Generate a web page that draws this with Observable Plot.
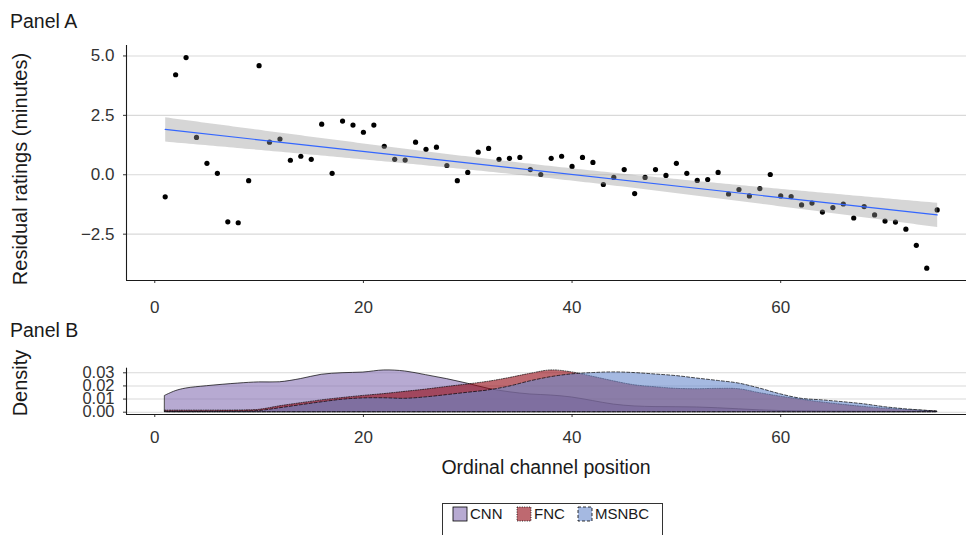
<!DOCTYPE html>
<html><head><meta charset="utf-8">
<script src="https://cdn.jsdelivr.net/npm/d3@7"></script>
<script src="https://cdn.jsdelivr.net/npm/@observablehq/plot@0.6"></script>
<style>
body{margin:0;background:#fff;font-family:"Liberation Sans",Arial,Helvetica,sans-serif;}
#wrap{position:relative;width:966px;height:535px;overflow:hidden;background:#fff;}
.t{position:absolute;color:#1a1a1a;white-space:nowrap;line-height:20px;font-size:19.5px;}
.rot{position:absolute;color:#1a1a1a;white-space:nowrap;line-height:20px;font-size:20px;transform:translate(-50%,-50%) rotate(-90deg);}
.plot{position:absolute;left:0;}
.lg{position:absolute;font-size:15px;line-height:16px;color:#1a1a1a;white-space:nowrap;}
</style></head>
<body><div id="wrap"></div>
<script>
// ---- Panel A data: ordinal channel position vs residual ratings ----
const positions = [1,2,3,4,5,6,7,8,9,10,11,12,13,14,15,16,17,18,19,20,21,22,23,24,25,26,27,28,29,30,31,32,33,34,35,36,37,38,39,40,41,42,43,44,45,46,47,48,49,50,51,52,53,54,55,56,57,58,59,60,61,62,63,64,65,66,67,68,69,70,71,72,73,74,75];
const residuals = [-0.93,4.21,4.93,1.57,0.48,0.06,-1.98,-2.02,-0.25,4.59,1.37,1.50,0.61,0.78,0.65,2.13,0.06,2.26,2.09,1.79,2.09,1.20,0.65,0.62,1.37,1.07,1.16,0.39,-0.25,0.10,0.95,1.11,0.65,0.69,0.73,0.22,0.01,0.69,0.78,0.35,0.73,0.52,-0.41,-0.11,0.22,-0.79,-0.11,0.22,-0.03,0.48,0.06,-0.24,-0.20,0.10,-0.81,-0.62,-0.89,-0.58,0.01,-0.89,-0.92,-1.27,-1.19,-1.57,-1.38,-1.23,-1.82,-1.34,-1.69,-1.95,-1.99,-2.29,-2.97,-3.93,-1.48];

// ---- Panel B data: density of channel positions per network ----
const networks = ["CNN","FNC","MSNBC"];
const densityX = [1,2,3,5,8,10,12,14,16,18,20,22,24,26,28,30,32,34,36,38,40,42,44,46,48,50,52,54,56,58,60,62,64,66,68,70,72,75];
const cnnDensity = [0.0125,0.016,0.018,0.0198,0.0218,0.0227,0.0228,0.0252,0.0285,0.0297,0.0302,0.0318,0.031,0.0282,0.0252,0.0217,0.0178,0.0152,0.0135,0.0127,0.0112,0.0085,0.0058,0.0044,0.0039,0.0038,0.0036,0.003,0.0022,0.0014,0.0009,0.0007,0.0006,0.0005,0.0004,0.0004,0.0003,0.0003];
const fncDensity = [0.0012,0.0012,0.0012,0.0012,0.0013,0.0018,0.0045,0.0068,0.009,0.0108,0.0124,0.0138,0.0155,0.0172,0.0192,0.0211,0.0232,0.026,0.0292,0.0318,0.0303,0.027,0.0235,0.0205,0.019,0.0178,0.0175,0.0178,0.0175,0.0145,0.0118,0.0095,0.0074,0.0056,0.004,0.0027,0.0017,0.0006];
const msnbcDensity = [0.0004,0.0004,0.0004,0.0004,0.0005,0.0009,0.003,0.0053,0.0075,0.0095,0.0105,0.0106,0.0102,0.0113,0.013,0.0148,0.0166,0.0195,0.0235,0.0267,0.0288,0.0298,0.0303,0.0298,0.0287,0.0275,0.0256,0.0238,0.0218,0.018,0.0136,0.0102,0.009,0.0076,0.006,0.0038,0.0022,0.0005];

// ---- ticks ----
const xTicks = [0,20,40,60];
const yTicksA = [-2.5,0,2.5,5];
const yTicksB = [0,0.01,0.02,0.03];

// ---- styles ----
const netColors = {CNN:"#8771b4", FNC:"#930511", MSNBC:"#698acd"};
const netDash = {CNN:null, FNC:"1,1.4", MSNBC:"3,2"};
const xDomain = [-2.71, 77.81];
const yDomainA = [-4.45, 5.44];
const yDomainB = [-0.00175, 0.0335];
const font = "Liberation Sans, Arial, Helvetica, sans-serif";

const wrap = document.getElementById("wrap");

const ptsA = positions.map((p,i)=>({x:p, y:residuals[i]}));
const plotA = Plot.plot({
  width:966, height:320, marginLeft:126, marginRight:0, marginTop:45, marginBottom:40,
  style:{fontFamily:font, fontSize:"17px", background:"transparent", overflow:"visible"},
  x:{domain:xDomain},
  y:{domain:yDomainA},
  marks:[
    Plot.gridY(yTicksA,{stroke:"#d9d9d9", strokeOpacity:1, strokeWidth:1.1}),
    Plot.dot(ptsA,{x:"x", y:"y", r:2.6, fill:"black"}),
    Plot.linearRegressionY(ptsA,{x:"x", y:"y", stroke:"#3366FF", strokeWidth:1.2, fill:"#999999", fillOpacity:0.4, ci:0.95}),
    Plot.axisY(yTicksA,{tickSize:3, tickPadding:9, tickFormat:d3.format(".1f"), label:null, fill:"#333", stroke:"#333"}),
    Plot.axisX(xTicks,{tickSize:3, tickPadding:17, label:null, fill:"#333", stroke:"#333"}),
    Plot.ruleX([xDomain[0]],{stroke:"#1a1a1a", strokeWidth:1.1}),
    Plot.ruleY([yDomainA[0]],{stroke:"#1a1a1a", strokeWidth:1.1})
  ]
});
plotA.classList.add("plot");
plotA.style.top = "0px";
wrap.appendChild(plotA);

const series = {CNN:cnnDensity, FNC:fncDensity, MSNBC:msnbcDensity};
const areaMarks = networks.map(n => Plot.areaY(
  densityX.map((x,i)=>({x, y:series[n][i], network:n})),
  {x:"x", y:"y", fill:netColors[n], fillOpacity:0.6, stroke:"black", strokeWidth:0.7,
   strokeDasharray:netDash[n], curve:"catmull-rom"}));

const plotB = Plot.plot({
  width:966, height:130, marginLeft:126, marginRight:0, marginTop:37.7, marginBottom:46,
  style:{fontFamily:font, fontSize:"17px", background:"transparent", overflow:"visible"},
  x:{domain:xDomain},
  y:{domain:yDomainB},
  marks:[
    Plot.gridY(yTicksB,{stroke:"#d9d9d9", strokeOpacity:1, strokeWidth:1.1}),
    ...areaMarks,
    Plot.axisY(yTicksB,{tickSize:3, tickPadding:9, tickFormat:d3.format(".2f"), label:null, fill:"#333", stroke:"#333", fontSize:16.5}),
    Plot.axisX(xTicks,{tickSize:3, tickPadding:13, label:null, fill:"#333", stroke:"#333"}),
    Plot.ruleX([xDomain[0]],{stroke:"#1a1a1a", strokeWidth:1.1}),
    Plot.ruleY([yDomainB[0]],{stroke:"#1a1a1a", strokeWidth:1.1})
  ]
});
plotB.classList.add("plot");
plotB.style.top = "330px";
wrap.appendChild(plotB);

// ---- text ----
function addText(cls, txt, css){
  const d = document.createElement("div");
  d.className = cls; d.textContent = txt;
  Object.assign(d.style, css);
  wrap.appendChild(d);
  return d;
}
addText("t","Panel A",{left:"10px", top:"11px"});
addText("t","Panel B",{left:"10px", top:"320px"});
addText("rot","Residual ratings (minutes)",{left:"19.5px", top:"169px"});
addText("rot","Density",{left:"19.5px", top:"383px"});
addText("t","Ordinal channel position",{left:"546px", top:"457px", transform:"translateX(-50%)"});

// ---- legend ----
const box = document.createElement("div");
Object.assign(box.style,{position:"absolute", left:"442px", top:"503px", width:"221px", height:"50px", border:"1px solid #333", boxSizing:"border-box"});
wrap.appendChild(box);
const keyX = {CNN:453, FNC:517, MSNBC:578};
networks.forEach(n => {
  const ns = "http://www.w3.org/2000/svg";
  const svg = document.createElementNS(ns,"svg");
  svg.setAttribute("width","16"); svg.setAttribute("height","16");
  Object.assign(svg.style,{position:"absolute", left:(keyX[n]-1)+"px", top:"506px"});
  const r = document.createElementNS(ns,"rect");
  r.setAttribute("x","1"); r.setAttribute("y","1"); r.setAttribute("width","14"); r.setAttribute("height","14");
  r.setAttribute("fill", netColors[n]); r.setAttribute("fill-opacity","0.6");
  r.setAttribute("stroke","black"); r.setAttribute("stroke-width","0.8");
  if (netDash[n]) r.setAttribute("stroke-dasharray", netDash[n]);
  svg.appendChild(r);
  wrap.appendChild(svg);
  addText("lg", n, {left:(keyX[n]+17)+"px", top:"506px"});
});
</script>
</body></html>
